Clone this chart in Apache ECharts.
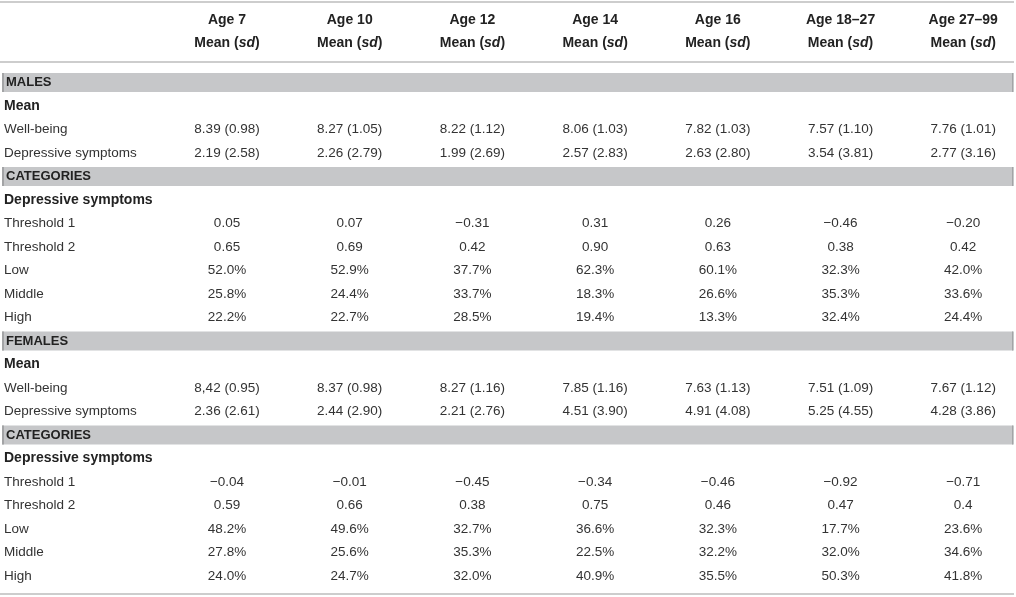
<!DOCTYPE html>
<html>
<head>
<meta charset="utf-8">
<title>Well-being and depressive symptoms by age</title>
<script src="https://cdn.jsdelivr.net/npm/echarts@6/dist/echarts.min.js"></script>
<style>
html,body{margin:0;padding:0;background:#fff;}
#main{width:1016px;height:597px;}
</style>
</head>
<body>
<div id="main"></div>
<script type="text/javascript">
// column headers
var ages = ['Age 7', 'Age 10', 'Age 12', 'Age 14', 'Age 16', 'Age 18\u201327', 'Age 27\u201399'];

// males
var maleWellBeing   = ['8.39 (0.98)', '8.27 (1.05)', '8.22 (1.12)', '8.06 (1.03)', '7.82 (1.03)', '7.57 (1.10)', '7.76 (1.01)'];
var maleDepressive  = ['2.19 (2.58)', '2.26 (2.79)', '1.99 (2.69)', '2.57 (2.83)', '2.63 (2.80)', '3.54 (3.81)', '2.77 (3.16)'];
var maleThreshold1  = ['0.05', '0.07', '\u22120.31', '0.31', '0.26', '\u22120.46', '\u22120.20'];
var maleThreshold2  = ['0.65', '0.69', '0.42', '0.90', '0.63', '0.38', '0.42'];
var maleLow         = ['52.0%', '52.9%', '37.7%', '62.3%', '60.1%', '32.3%', '42.0%'];
var maleMiddle      = ['25.8%', '24.4%', '33.7%', '18.3%', '26.6%', '35.3%', '33.6%'];
var maleHigh        = ['22.2%', '22.7%', '28.5%', '19.4%', '13.3%', '32.4%', '24.4%'];

// females
var femaleWellBeing  = ['8,42 (0.95)', '8.37 (0.98)', '8.27 (1.16)', '7.85 (1.16)', '7.63 (1.13)', '7.51 (1.09)', '7.67 (1.12)'];
var femaleDepressive = ['2.36 (2.61)', '2.44 (2.90)', '2.21 (2.76)', '4.51 (3.90)', '4.91 (4.08)', '5.25 (4.55)', '4.28 (3.86)'];
var femaleThreshold1 = ['\u22120.04', '\u22120.01', '\u22120.45', '\u22120.34', '\u22120.46', '\u22120.92', '\u22120.71'];
var femaleThreshold2 = ['0.59', '0.66', '0.38', '0.75', '0.46', '0.47', '0.4'];
var femaleLow        = ['48.2%', '49.6%', '32.7%', '36.6%', '32.3%', '17.7%', '23.6%'];
var femaleMiddle     = ['27.8%', '25.6%', '35.3%', '22.5%', '32.2%', '32.0%', '34.6%'];
var femaleHigh       = ['24.0%', '24.7%', '32.0%', '40.9%', '35.5%', '50.3%', '41.8%'];

// table body, one entry per row: [label, kind, cells]
var rows = [
	['MALES', 'band', null],
	['Mean', 'bold', null],
	['Well-being', 'plain', maleWellBeing],
	['Depressive symptoms', 'plain', maleDepressive],
	['CATEGORIES', 'band', null],
	['Depressive symptoms', 'bold', null],
	['Threshold 1', 'plain', maleThreshold1],
	['Threshold 2', 'plain', maleThreshold2],
	['Low', 'plain', maleLow],
	['Middle', 'plain', maleMiddle],
	['High', 'plain', maleHigh],
	['FEMALES', 'band', null],
	['Mean', 'bold', null],
	['Well-being', 'plain', femaleWellBeing],
	['Depressive symptoms', 'plain', femaleDepressive],
	['CATEGORIES', 'band', null],
	['Depressive symptoms', 'bold', null],
	['Threshold 1', 'plain', femaleThreshold1],
	['Threshold 2', 'plain', femaleThreshold2],
	['Low', 'plain', femaleLow],
	['Middle', 'plain', femaleMiddle],
	['High', 'plain', femaleHigh]
];

var FONT = '"Liberation Sans", Arial, Helvetica, sans-serif';
var TEXT_COLOR = '#333';

// build data for the custom series: [col, row, text, kind]
var bandData = [];
var cellData = [];
for (var r = 0; r < rows.length; r++) {
	var label = rows[r][0], kind = rows[r][1], cells = rows[r][2];
	if (kind == 'band') bandData.push([0, r]);
	cellData.push([0, r, label, kind]);
	if (cells) {
		for (var c = 0; c < cells.length; c++) {
			cellData.push([c + 1, r, cells[c], 'cell']);
		}
	}
}
// header rows sit above row 0
var headerData = [];
for (var h = 0; h < ages.length; h++) {
	headerData.push([h + 1, -2.66, ages[h], 'head']);
	headerData.push([h + 1, -1.68, 'Mean ({i|sd})', 'head']);
}
var ruleData = [[0, -3.43], [0, -0.87], [0, 21.77]];

var myChart = echarts.init(document.getElementById('main'));
var option = {
	animation: false,
	grid: { left: 0, right: 0, top: 0, bottom: 0 },
	xAxis: { type: 'value', min: -0.85, max: 7.43, show: false },
	yAxis: { type: 'value', min: -3.511, max: 21.894, inverse: true, show: false },
	series: [
		{
			type: 'custom',
			data: ruleData,
			renderItem: function (params, api) {
				var y = api.coord([0, api.value(1)])[1];
				var cs = params.coordSys;
				return {
					type: 'line',
					shape: { x1: cs.x, y1: y, x2: cs.x + cs.width - 2, y2: y },
					style: { stroke: '#bdbdbd', lineWidth: 1.5 }
				};
			}
		},
		{
			type: 'custom',
			data: bandData,
			renderItem: function (params, api) {
				var y = api.coord([0, api.value(1)])[1];
				var hgt = api.size([0, 0.81])[1];
				var cs = params.coordSys;
				return {
					type: 'group',
					children: [
						{
							type: 'rect',
							shape: { x: cs.x + 2, y: y - hgt / 2, width: cs.width - 4, height: hgt },
							style: { fill: '#c6c7c9' }
						},
						{
							type: 'rect',
							shape: { x: cs.x + 2, y: y - hgt / 2, width: 2, height: hgt },
							style: { fill: '#a3a4a6' }
						},
						{
							type: 'rect',
							shape: { x: cs.x + cs.width - 4, y: y - hgt / 2, width: 1, height: hgt },
							style: { fill: '#a3a4a6' }
						}
					]
				};
			}
		},
		{
			type: 'custom',
			data: cellData.concat(headerData),
			renderItem: function (params, api) {
				var item = params.dataIndex < cellData.length ? cellData[params.dataIndex] : headerData[params.dataIndex - cellData.length];
				var kind = item[3];
				var pt = api.coord([item[0], item[1]]);
				var cs = params.coordSys;
				var x = pt[0], align = 'center';
				if (item[0] === 0) {
					x = cs.x + (kind == 'band' ? 6 : 4);
					align = 'left';
				}
				var bold = (kind == 'band' || kind == 'bold' || kind == 'head');
				var size = kind == 'band' ? 13 : (bold ? 14 : 13.5);
				return {
					type: 'text',
					x: x,
					y: pt[1],
					style: {
						text: item[2],
						textAlign: align,
						textVerticalAlign: 'middle',
						fontFamily: FONT,
						fontSize: size,
						fontWeight: bold ? 'bold' : 'normal',
						fill: bold ? '#222' : TEXT_COLOR,
						rich: {
							i: { fontFamily: FONT, fontSize: size, fontWeight: 'bold', fontStyle: 'italic', fill: '#222' }
						}
					}
				};
			}
		}
	]
};
myChart.setOption(option);
</script>
</body>
</html>
